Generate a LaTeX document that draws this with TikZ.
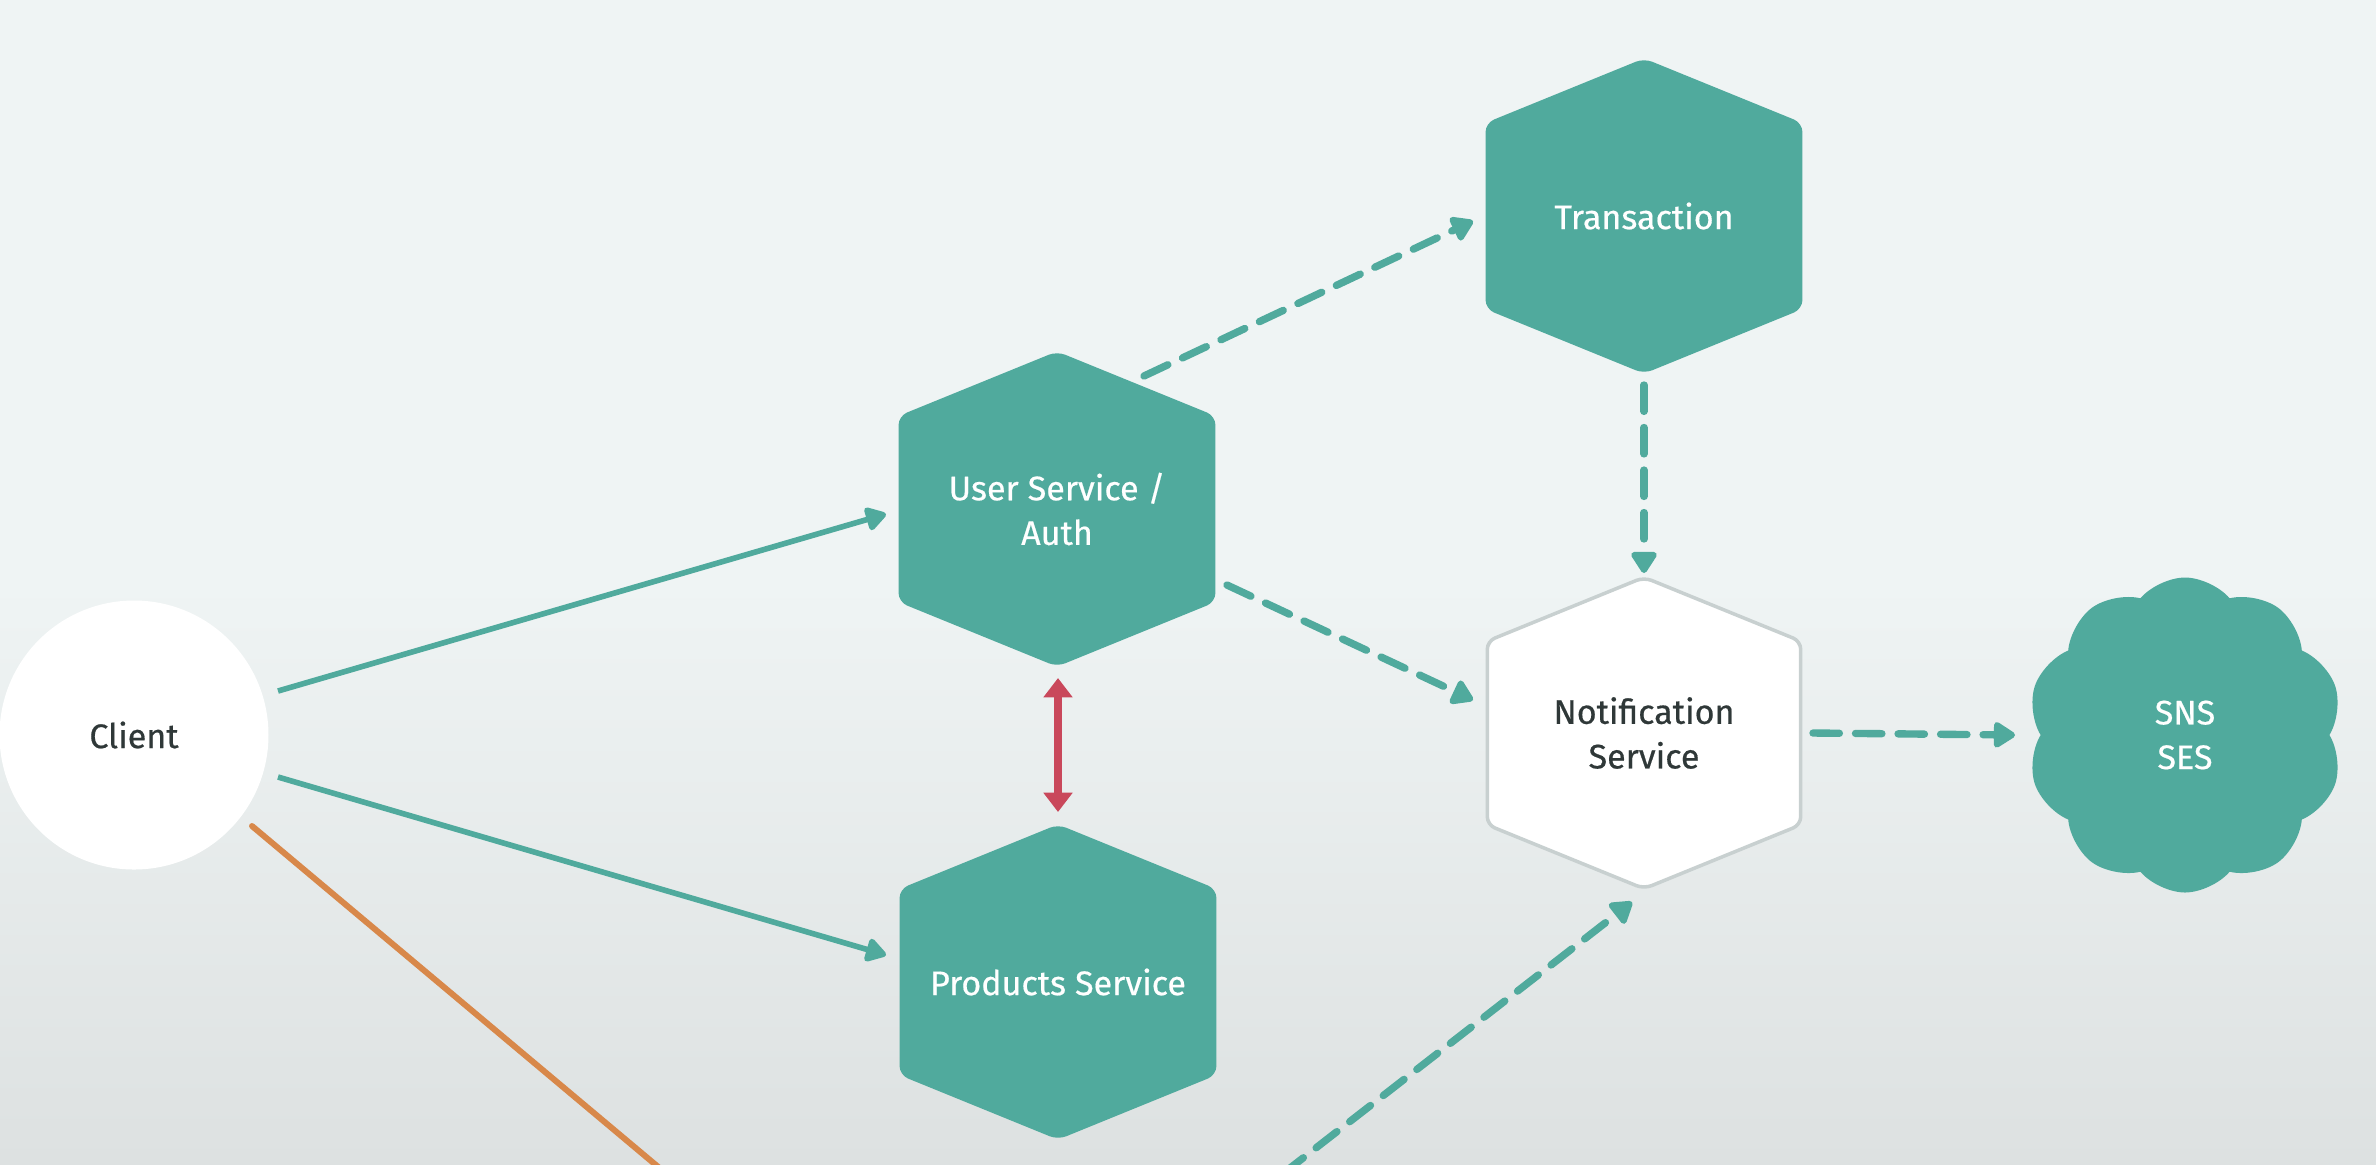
\documentclass[tikz,border=0pt]{standalone}
\usepackage{fontspec}
\setmainfont{Fira Sans}[FakeBold=0.5]
\usetikzlibrary{arrows.meta, calc, shapes.symbols, backgrounds}
\definecolor{svcteal}{HTML}{50AA9D}
\definecolor{linkred}{HTML}{C9485B}
\definecolor{apiorange}{HTML}{D8884A}
\definecolor{ink}{HTML}{2F3838}
\definecolor{hexgray}{HTML}{C8D0D0}
\definecolor{bgtop}{HTML}{EFF4F4}
\definecolor{bgbot}{HTML}{DDE1E1}

\begin{document}
\begin{tikzpicture}[
  x=0.1mm, y=-0.1mm,
  every node/.style={font=\fontsize{9.7}{12.7}\selectfont, align=center},
  hexbox/.style={minimum width=31.2mm, minimum height=31mm, inner sep=0pt, text=white},
  solidln/.style={svcteal, line width=1.6pt, -{Triangle[length=6.5pt, width=7.5pt, round]}},
  dashln/.style={svcteal, line width=2.1pt, line cap=round, dash pattern=on 7.5pt off 4.6pt,
    -{Triangle[length=6.8pt, width=8.2pt, round]}},
  dblln/.style={linkred, line width=2pt,
    {Triangle[length=5.5pt, width=8pt]}-{Triangle[length=5.5pt, width=8pt]}},
]

% Background
\useasboundingbox (0,0) rectangle (2376,1164);
\begin{scope}[on background layer]
  \shade[top color=bgtop, bottom color=bgbot, middle color=bgtop] (0,0) rectangle (2376,1164);
\end{scope}

% Nodes
\node[circle, fill=white, minimum size=26.9mm, text=ink] (client) at (134,735) {Client};
\node[hexbox] (user) at (1057,509) {User Service /\\Auth};
\node[hexbox] (prod) at (1058,982) {Products Service};
\node[hexbox] (trans) at (1644,216) {Transaction};
\node[hexbox, text=ink] (notif) at (1644,733) {Notification\\Service};
\node[cloud, cloud puffs=10, cloud puff arc=100, aspect=1, fill=svcteal, text=white,
  minimum width=31.6mm, minimum height=31.5mm, inner sep=0pt] (cloud) at (2185,735) {SNS\\SES};

% Hexagon outlines
\begin{scope}[on background layer]
  \foreach \h/\fc/\dc in {user/svcteal/svcteal, prod/svcteal/svcteal, trans/svcteal/svcteal, notif/white/hexgray}
    \filldraw[fill=\fc, draw=\dc, line width=1pt, rounded corners=2.3pt]
      (\h.north) -- ($(\h.north east)!0.205!(\h.south east)$) -- ($(\h.south east)!0.205!(\h.north east)$)
      -- (\h.south) -- ($(\h.south west)!0.205!(\h.north west)$) -- ($(\h.north west)!0.205!(\h.south west)$) -- cycle;
\end{scope}

% Client requests
\draw[solidln] ($(client)+(144,-44)$) -- ($(user)+(-171,5)$);
\draw[solidln] ($(client)+(144,42)$) -- ($(prod)+(-172,-27)$);
\draw[dblln] ($(user)+(1,169)$) -- ($(prod)+(0,-170)$);

% Events
\draw[dashln] ($(user)+(87,-133)$) -- ($(trans)+(-171,5)$);
\draw[dashln] ($(user)+(170,76)$) -- ($(notif)+(-171,-33)$);
\draw[dashln] ($(trans)+(0,169)$) -- ($(notif)+(0,-160)$);
\draw[dashln] ($(notif)+(169,0)$) -- ($(cloud)+(-170,0)$);

% Lines leaving the frame
\begin{scope}
  \clip (0,0) rectangle (2376,1164);
  \coordinate (apiend) at (700,1202);
  \coordinate (evstart) at (1249,1200);
  \draw[apiorange, line width=1.7pt, line cap=round] ($(client)+(118,91)$) -- (apiend);
  \draw[dashln] (evstart) -- ($(notif)+(-12,169)$);
\end{scope}

\end{tikzpicture}
\end{document}
